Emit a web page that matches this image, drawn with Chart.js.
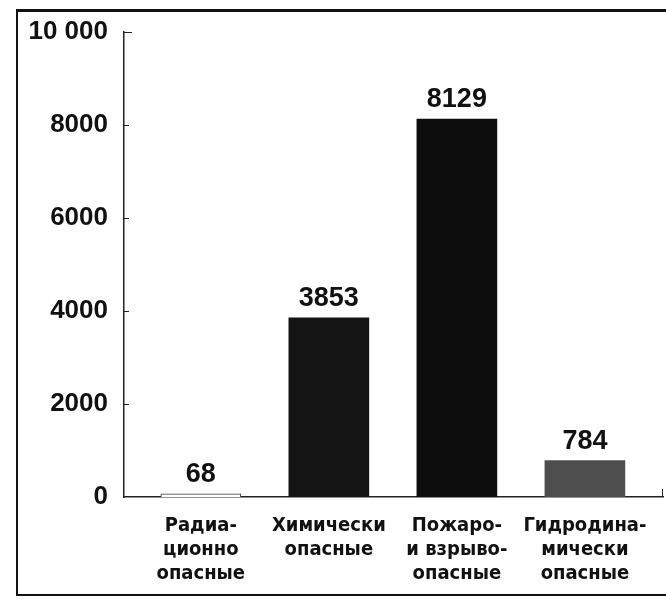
<!DOCTYPE html>
<html>
<head>
<meta charset="utf-8">
<script src="https://cdn.jsdelivr.net/npm/chart.js@4"></script>
<style>
  html, body { margin: 0; padding: 0; background: #fff; }
  #wrap { position: relative; width: 666px; height: 609px; overflow: hidden; }
  #frame { position: absolute; left: 16px; top: 9px; width: 700px; height: 582px;
           border: 2px solid #111; border-top-width: 3px; pointer-events: none; }
</style>
</head>
<body>
<div id="wrap">
  <canvas id="grafica" width="666" height="609"></canvas>
  <div id="frame"></div>
</div>
<script>
const categorias = [
  ["Радиа-", "ционно", "опасные"],
  ["Химически", "опасные"],
  ["Пожаро-", "и взрыво-", "опасные"],
  ["Гидродина-", "мически", "опасные"]
];
const valores = [68, 3853, 8129, 784];
const colores = ["#ffffff", "#141414", "#0c0c0c", "#4e4e4e"];
const ticksY = [0, 2000, 4000, 6000, 8000, 10000];

const fuenteNum = "'Liberation Sans', Arial, sans-serif";
const fuenteCat = "'DejaVu Sans Condensed', 'DejaVu Sans', sans-serif";

// numeros encima de las barras y marcas pequeñas de los ejes
const extras = {
  id: "extras",
  afterDatasetsDraw(chart) {
    const ctx = chart.ctx;
    const meta = chart.getDatasetMeta(0);
    ctx.save();
    ctx.fillStyle = "#111";
    ctx.font = "bold 27px " + fuenteNum;
    ctx.textAlign = "center";
    ctx.textBaseline = "alphabetic";
    meta.data.forEach((bar, i) => {
      ctx.fillText(String(valores[i]), bar.x, bar.y - 12);
    });
    const y = chart.scales.y;
    const x = chart.scales.x;
    ctx.strokeStyle = "#222";
    ctx.lineWidth = 1;
    ticksY.forEach(v => {
      if (v === 0) return;
      const py = Math.round(y.getPixelForValue(v)) + 0.5;
      ctx.beginPath();
      ctx.moveTo(x.left, py);
      ctx.lineTo(x.left + (v === 10000 ? 8 : 5), py);
      ctx.stroke();
    });
    const px = Math.round(x.right) - 0.5;
    ctx.beginPath();
    ctx.moveTo(px, y.bottom);
    ctx.lineTo(px, y.bottom - 8);
    ctx.stroke();
    ctx.restore();
  }
};

new Chart(document.getElementById("grafica"), {
  type: "bar",
  data: {
    datasets: [{
      data: valores.map((v, i) => ({ x: i, y: v })),
      backgroundColor: colores,
      borderColor: ["#333", "#141414", "#0c0c0c", "#4e4e4e"],
      borderWidth: [1, 0, 0, 0],
      barThickness: 80
    }]
  },
  options: {
    responsive: false,
    animation: false,
    layout: { padding: { left: 0, right: 3, top: 32, bottom: 0 } },
    plugins: { legend: { display: false }, tooltip: { enabled: false } },
    scales: {
      x: {
        type: "linear",
        min: -0.6,
        max: 3.61,
        offset: false,
        grid: { display: false },
        border: { display: true, color: "#222", width: 1.5 },
        afterBuildTicks: s => { s.ticks = categorias.map((c, i) => ({ value: i })); },
        afterFit: s => { s.height = 112; },
        ticks: {
          autoSkip: false,
          maxRotation: 0,
          padding: 9,
          color: "#111",
          font: { family: fuenteCat, size: 20, weight: "bold", lineHeight: 1.2 },
          callback: v => categorias[v]
        }
      },
      y: {
        min: 0,
        max: 10000,
        grid: { display: false },
        border: { display: true, color: "#222", width: 1.5 },
        afterBuildTicks: s => { s.ticks = ticksY.map(v => ({ value: v })); },
        afterFit: s => { s.width = 124; },
        ticks: {
          padding: 8,
          color: "#111",
          font: { family: fuenteNum, size: 26, weight: "bold" },
          callback: v => v === 10000 ? "10 000" : String(v)
        }
      }
    }
  },
  plugins: [extras]
});
</script>
</body>
</html>
